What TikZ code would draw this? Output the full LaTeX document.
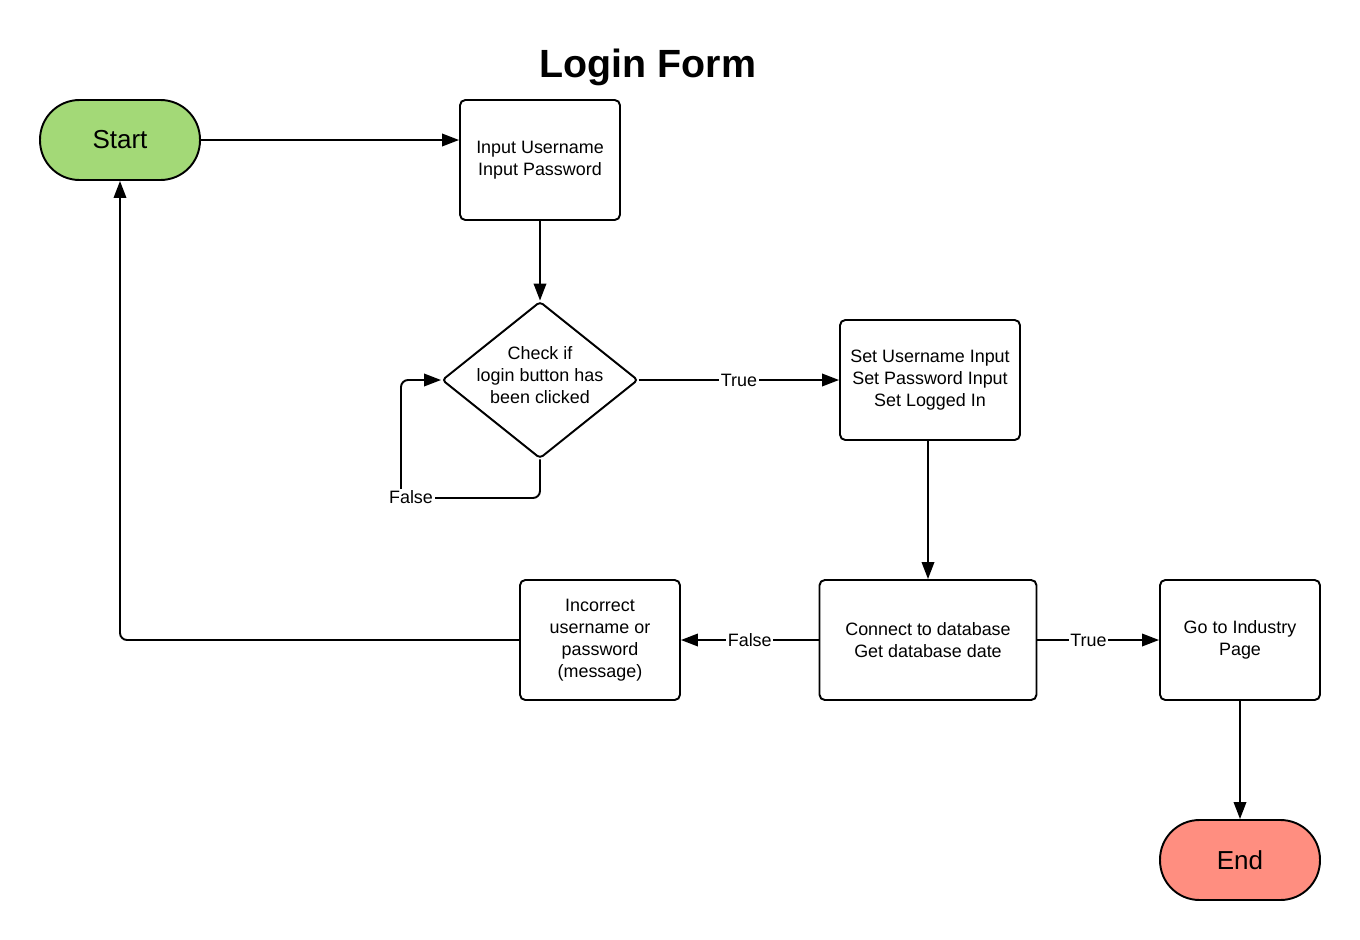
\documentclass[tikz,border=0pt]{standalone}
\usepackage{fontspec}
\setmainfont{Liberation Sans}
\usetikzlibrary{arrows.meta,shapes.geometric}
\definecolor{startgreen}{HTML}{A3D977}
\definecolor{endred}{HTML}{FF8E80}
\begin{document}
\begin{tikzpicture}[x=0.02cm,y=-0.02cm,
  every node/.style={text=black},
  box/.style={draw, line width=1.1pt, rounded corners=3pt, inner sep=0pt, align=center,
    font=\fontsize{10.2}{12.5}\selectfont},
  term/.style={draw, line width=1.1pt, rounded corners=0.79cm, inner sep=0pt,
    minimum width=3.2cm, minimum height=1.6cm, font=\fontsize{14.8}{17}\selectfont},
  conn/.style={line width=1.1pt, -{Triangle[length=0.34cm,width=0.25cm]}},
  lbl/.style={fill=white, inner sep=1pt, font=\fontsize{10.2}{12.5}\selectfont}
]
\useasboundingbox (0,0) rectangle (1360,940);
\node[font=\bfseries\fontsize{22.4}{26}\selectfont] (title) at (648,67) {Login Form};

\node[term, fill=startgreen] (start) at (120,140) {Start};
\node[box, minimum width=3.2cm, minimum height=2.4cm] (input) at (540,160) {Input Username\\Input Password};
\node[diamond, draw, line width=1.1pt, minimum width=3.92cm, minimum height=3.14cm, inner sep=0pt, rounded corners=2pt] (check) at (540,380) {};
\node[align=center, font=\fontsize{10.2}{12.5}\selectfont] (checktext) at (540,375) {Check if\\login button has\\been clicked};
\node[box, minimum width=3.6cm, minimum height=2.4cm] (set) at (930,380) {Set Username Input\\Set Password Input\\Set Logged In};
\node[box, minimum width=4.34cm, minimum height=2.4cm] (db) at (928,640) {Connect to database\\Get database date};
\node[box, minimum width=3.2cm, minimum height=2.4cm] (wrong) at (600,640) {Incorrect\\username or\\password\\(message)};
\node[box, minimum width=3.2cm, minimum height=2.4cm] (go) at (1240,640) {Go to Industry\\Page};
\node[term, fill=endred] (end) at (1240,860) {End};

\draw[conn] (start.east) -- (start.east -| input.west);
\draw[conn] (input.south) -- (check.north);
\draw[conn] (check.east) -- node[lbl] (t1) {True} (set.west);
\coordinate (floop) at (401,498);
\draw[conn, rounded corners=4pt] (check.south) |- (floop) |- (check.west);
\node[lbl] (f1) at (411,497) {False};
\draw[conn] (set.south -| db.north) -- (db.north);
\draw[conn] (db.west) -- node[lbl] (f2) {False} (wrong.east);
\draw[conn] (db.east) -- node[lbl, pos=0.42] (t2) {True} (go.west);
\draw[conn] (go.south) -- (end.north);
\draw[conn, rounded corners=4pt] (wrong.west) -| (start.south);
\end{tikzpicture}
\end{document}
